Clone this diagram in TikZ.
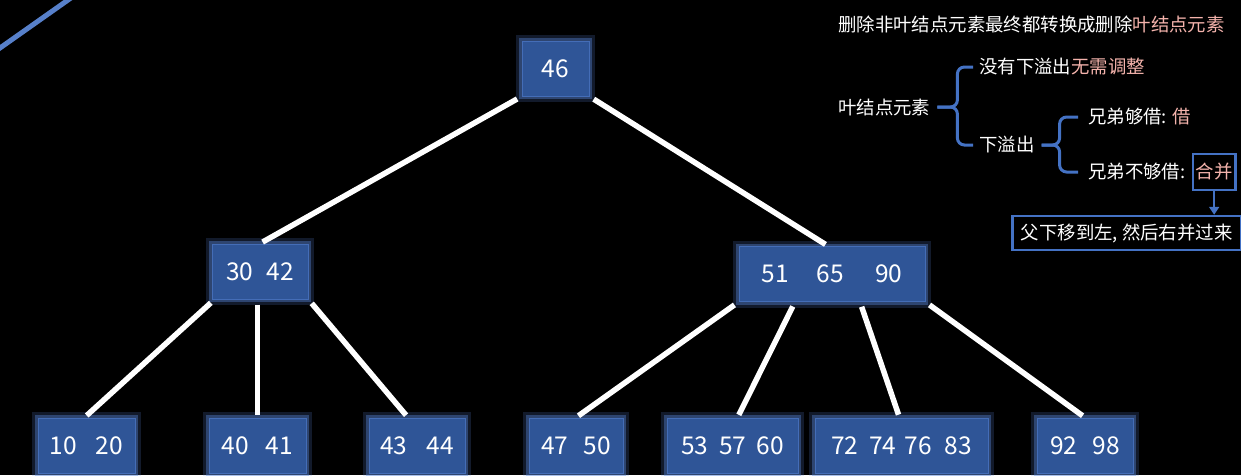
\documentclass[tikz,border=0pt]{standalone}
\usepackage{fontspec}
\setmainfont{Noto Sans CJK SC}
\usepackage{tikz}
\usetikzlibrary{arrows.meta,calc,positioning}
\definecolor{keyblue}{HTML}{2F5597}
\definecolor{glowblue}{HTML}{5A86D8}
\definecolor{linkblue}{HTML}{4472C4}
\definecolor{notepink}{HTML}{F4B3AC}
\tikzset{
         keybox/.style=
          {
           draw=glowblue!50!keyblue,line width=1pt,fill=keyblue,text=white,
           font=\fontsize{24.5}{28}\selectfont,minimum height=55pt,inner sep=0pt,
           preaction={draw=glowblue,line width=12pt,opacity=.2},
           preaction={draw=glowblue,line width=6pt,opacity=.4}
          },
         link/.style={white,line width=5.5pt,shorten <=5pt,shorten >=3pt},
         bracket/.style={linkblue,line width=3pt,rounded corners=7pt},
         note/.style={text=white,font=\fontsize{18.4}{22}\selectfont,inner sep=0pt,anchor=west}
        }
\begin{document}
\begin{tikzpicture}[x=1pt,y=-1pt]
\fill[black](0,0)rectangle(1241,475);
\useasboundingbox(0,0)rectangle(1241,475);
\draw[linkblue!90!white,line width=5pt](-4,50.8)--(72,-2.8); %corner stroke
%tree
\node[keybox,minimum width=67pt](n46)at(555.5,68.5){46};
\node[keybox,minimum width=96pt](n3042)at(260,271.5){30\hspace{13pt}42};
\node[keybox,minimum width=186pt](n516590)at(832,274){51\hspace{28pt}65\hspace{31pt}90};
\node[keybox,minimum width=97pt](n1020)at(86.5,445.5){10\hspace{19pt}20};
\node[keybox,minimum width=97pt](n4041)at(257.5,445.5){40\hspace{17pt}41};
\node[keybox,minimum width=96pt](n4344)at(417,445.5){43\hspace{19pt}44};
\node[keybox,minimum width=94pt](n4750)at(576,445.5){47\hspace{15pt}50};
\node[keybox,minimum width=131pt](n535760)at(732.5,445.5){53\hspace{11pt}57\hspace{10pt}60};
\node[keybox,minimum width=173pt](n72747683)at(901.5,445.5){72\hspace{11pt}74\hspace{8pt}76\hspace{13pt}83};
\node[keybox,minimum width=96pt](n9298)at(1085,445.5){92\hspace{15pt}98};
%edges
\draw[link](n46.south west)--(n3042.north);
\draw[link](n46.south east)--([xshift=-4pt]n516590.north);
\draw[link]([xshift=3pt]n3042.south west)--([xshift=-2pt]n1020.north);
\draw[link](n3042.south-|n4041.north)--(n4041.north);
\draw[link](n3042.south east)--([xshift=-9pt]n4344.north);
\draw[link](n516590.south west)--(n4750.north);
\draw[link]([xshift=-37pt]n516590.south)--([xshift=5pt]n535760.north);
\draw[link]([xshift=28pt]n516590.south)--([xshift=-2pt]n72747683.north);
\draw[link](n516590.south east)--(n9298.north);
%notes
\node[note](title)at(838,25){删除非叶结点元素最终都转换成删除\textcolor{notepink}{叶结点元素}};
\node[note](leafel)at(838,107){叶结点元素};
\node[note](nook)at(979,67){没有下溢出\textcolor{notepink}{无需调整}};
\node[note](overflow)at(979,145){下溢出};
\node[note](borrowyes)at(1088,117){兄弟够借: \textcolor{notepink}{借}};
\node[note](borrowno)at(1088,172){兄弟不够借:};
\node[note,draw=linkblue,line width=2.5pt,inner xsep=3pt,minimum height=36pt,text=notepink,right=6pt of borrowno](merge){合并};
\node[note,draw=linkblue,line width=2.5pt,minimum width=229pt,minimum height=34pt](rule)at(1011,233){父下移到左, 然后右并过来};
\draw[linkblue,line width=2.5pt,-{Triangle[width=10pt,length=8pt]}](merge.south)--(merge.south|-rule.north); %to rule
%braces
\draw[bracket]([xshift=-6pt]nook.west)-|([xshift=27pt]leafel.east)--([xshift=7pt]leafel.east);
\draw[bracket]([xshift=7pt]leafel.east)--([xshift=27pt]leafel.east)|-([xshift=-6pt]overflow.west);
\draw[bracket]([xshift=-10pt]borrowyes.west)-|([xshift=25pt]overflow.east)--([xshift=7pt]overflow.east);
\draw[bracket]([xshift=7pt]overflow.east)--([xshift=25pt]overflow.east)|-([xshift=-10pt]borrowno.west);
\end{tikzpicture}
\end{document}
